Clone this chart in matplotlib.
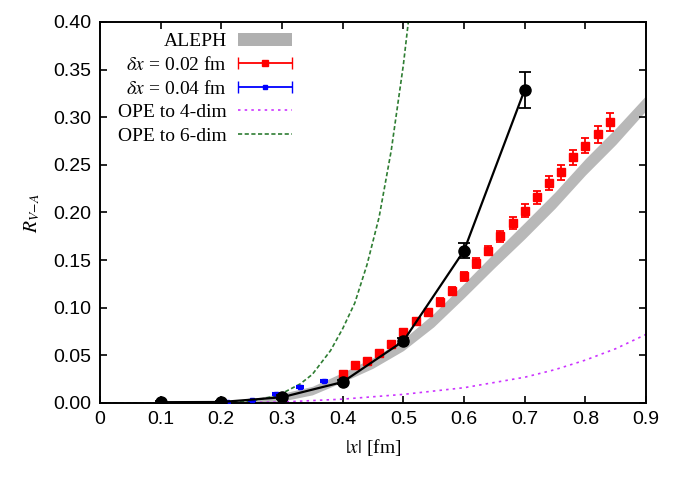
import matplotlib.pyplot as plt
import numpy as np
from matplotlib.patches import Patch
from matplotlib.legend_handler import HandlerErrorbar

plt.rcParams['mathtext.fontset'] = 'stix'

# lattice data (black), delta x = 0.02 (red), delta x = 0.04 (blue)
black_x = [0.1, 0.2, 0.3, 0.4, 0.5, 0.6, 0.7]
black_y = [0.0008, 0.001, 0.006, 0.022, 0.065, 0.160, 0.329]
black_err = [0.001, 0.001, 0.002, 0.002, 0.003, 0.008, 0.019]

red_x = [0.40, 0.42, 0.44, 0.46, 0.48, 0.50, 0.52, 0.54, 0.56, 0.58, 0.60, 0.62,
         0.64, 0.66, 0.68, 0.70, 0.72, 0.74, 0.76, 0.78, 0.80, 0.82, 0.84]
red_y = [0.030, 0.040, 0.044, 0.052, 0.062, 0.075, 0.086, 0.095, 0.106, 0.118, 0.133, 0.147,
         0.160, 0.175, 0.189, 0.202, 0.216, 0.231, 0.242, 0.258, 0.270, 0.282, 0.295]
red_err = [0.002, 0.002, 0.002, 0.003, 0.003, 0.003, 0.003, 0.004, 0.004, 0.004, 0.005, 0.005,
           0.005, 0.006, 0.006, 0.007, 0.007, 0.007, 0.008, 0.008, 0.008, 0.009, 0.009]

blue_x = [0.21, 0.25, 0.29, 0.33, 0.37]
blue_y = [0.0005, 0.003, 0.009, 0.017, 0.0235]
blue_err = [0.0005, 0.0005, 0.001, 0.001, 0.001]

# ALEPH band
aleph_x = [0.17, 0.2, 0.25, 0.3, 0.35, 0.4, 0.45, 0.5, 0.55, 0.6, 0.65, 0.7, 0.75, 0.8, 0.85, 0.9]
aleph_lo = [0.0, 0.0, 0.0005, 0.002, 0.0085, 0.022, 0.0365, 0.055, 0.080, 0.1105, 0.142, 0.1725,
            0.2045, 0.2395, 0.2715, 0.307]
aleph_hi = [0.001, 0.002, 0.0045, 0.010, 0.0175, 0.032, 0.0475, 0.067, 0.094, 0.1255, 0.158, 0.1895,
            0.2215, 0.2565, 0.2885, 0.323]

# OPE curves
ope4_x = [0.0, 0.1, 0.2, 0.3, 0.4, 0.5, 0.6, 0.7, 0.75, 0.8, 0.85, 0.9]
ope4_y = [0.0, 0.0, 0.0003, 0.001, 0.004, 0.009, 0.016, 0.027, 0.035, 0.045, 0.057, 0.072]
ope6_x = [0.0, 0.1, 0.2, 0.25, 0.28, 0.3, 0.33, 0.35, 0.38, 0.40, 0.42, 0.44, 0.46, 0.48, 0.50, 0.51]
ope6_y = [0.0, 0.0, 0.0, 0.002, 0.006, 0.010, 0.020, 0.030, 0.055, 0.078, 0.105, 0.145,
          0.195, 0.265, 0.355, 0.41]

serif = 'Liberation Serif'
sans = 'Liberation Sans'

fig = plt.figure(figsize=(6.94, 4.78), dpi=100)
ax = fig.add_axes([0.144, 0.157, 0.787, 0.797])

ax.fill_between(aleph_x, aleph_lo, aleph_hi, color='#b8b8b8', lw=0, zorder=1)
ax.plot(ope4_x, ope4_y, color='#cc33ff', ls=(0, (1.5, 2.5)), lw=1.2, zorder=2)
ax.plot(ope6_x, ope6_y, color='#2e7d32', ls=(0, (2.5, 1.5)), lw=1.2, zorder=2)

ax.errorbar(red_x, red_y, yerr=red_err, fmt='s', color='red', ms=6, capsize=3, elinewidth=1.3,
            capthick=1.3, zorder=3)
ax.errorbar(blue_x, blue_y, yerr=blue_err, fmt='s', color='blue', ms=3.5, capsize=3,
            elinewidth=1.3, capthick=1.5, zorder=3)
ax.errorbar(black_x, black_y, yerr=black_err, fmt='o-', color='black', ms=8, lw=1.6,
            capsize=4, elinewidth=1.3, capthick=1.3, zorder=4)

# legend handles
h_aleph = Patch(facecolor='#b0b0b0', edgecolor='none')
h_red = ax.errorbar([np.nan], [np.nan], xerr=[1], fmt='s', color='red', ms=5, capsize=4, lw=1.3)
h_blue = ax.errorbar([np.nan], [np.nan], xerr=[1], fmt='s', color='blue', ms=3, capsize=4, lw=1.3)
h_ope4, = ax.plot([], [], color='#cc33ff', ls=(0, (1.5, 2.5)), lw=1.2)
h_ope6, = ax.plot([], [], color='#2e7d32', ls=(0, (2.5, 1.5)), lw=1.2)
labels = ['ALEPH', r'$\delta x$ = 0.02 fm', r'$\delta x$ = 0.04 fm', 'OPE to 4-dim', 'OPE to 6-dim']
hm = {h_red: HandlerErrorbar(xerr_size=1.4, numpoints=1),
      h_blue: HandlerErrorbar(xerr_size=1.4, numpoints=1)}
leg = ax.legend([h_aleph, h_red, h_blue, h_ope4, h_ope6], labels, loc='upper right',
                bbox_to_anchor=(0.3516, 0.9724), markerfirst=False, frameon=False,
                borderpad=0, borderaxespad=0, handler_map=hm,
                handlelength=2.8, handletextpad=0.55, labelspacing=0.3,
                prop={'family': serif, 'size': 14})

ax.set_xlim(0, 0.9)
ax.set_ylim(0, 0.40)
ax.set_xticks(np.arange(0, 0.91, 0.1))
ax.set_xticklabels(['0', '0.1', '0.2', '0.3', '0.4', '0.5', '0.6', '0.7', '0.8', '0.9'])
ax.set_yticks(np.arange(0, 0.401, 0.05))
ax.set_yticklabels(['%.2f' % v for v in np.arange(0, 0.401, 0.05)])
ax.tick_params(direction='in', top=True, right=True, length=5, width=1.2, labelsize=14, pad=6)
for lab in ax.get_xticklabels() + ax.get_yticklabels():
    lab.set_family(sans)
for s in ax.spines.values():
    s.set_linewidth(1.4)

ax.set_xlabel(r'$|x|$ [fm]', family=serif, fontsize=14, labelpad=6)
ax.set_ylabel(r'$R_{V\!-\!A}$', family=serif, fontsize=14, labelpad=8)

fig.savefig('out.png', dpi=100)
